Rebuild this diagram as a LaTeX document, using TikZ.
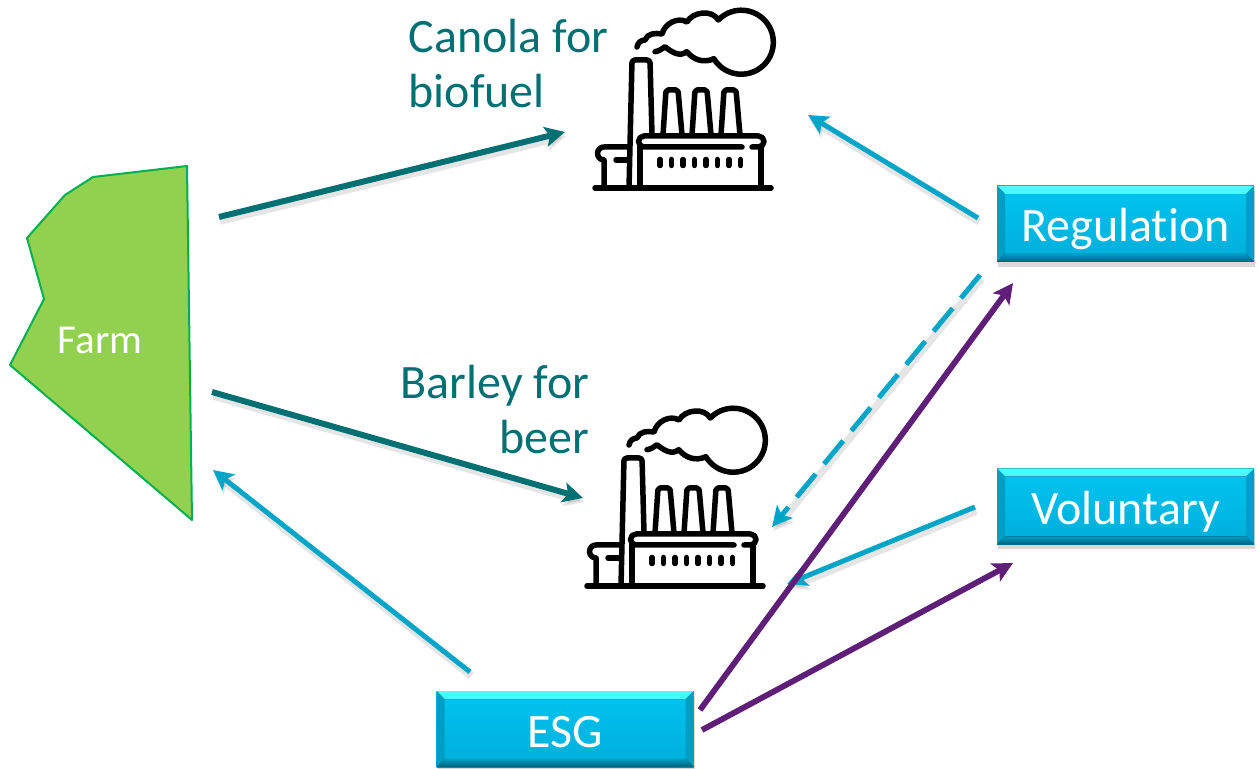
\documentclass[tikz,border=0pt]{standalone}
\usepackage{fontspec}
\setmainfont{Carlito}[Ligatures=NoCommon]
\usetikzlibrary{arrows.meta,calc,shadows}

\definecolor{cropteal}{RGB}{0,112,115}
\definecolor{flowblue}{RGB}{0,165,200}
\definecolor{flowpurple}{RGB}{95,30,120}
\definecolor{farmfill}{RGB}{146,208,80}
\definecolor{farmedge}{RGB}{0,176,80}
\definecolor{boxtop}{RGB}{0,196,240}
\definecolor{boxbottom}{RGB}{0,174,218}

\def\pbb{path picture bounding box}

\tikzset{
  bigtext/.style={font=\fontsize{13.65}{15.9}\selectfont},
  croptext/.style={bigtext, text=cropteal, inner sep=0pt},
  bevelbox/.style={bigtext, text=white, minimum width=2.57cm, minimum height=.76cm, inner sep=0pt,
    text height=.44cm, text depth=.08cm,
    top color=boxtop, bottom color=boxbottom,
    drop shadow={shadow xshift=.01cm, shadow yshift=-.05cm, opacity=.3},
    path picture={
      \fill[top color=cyan!70!white, bottom color=boxtop] (\pbb.north west) -- (\pbb.north east) -- ($(\pbb.north east)+(-.08,-.08)$) -- ($(\pbb.north west)+(.08,-.08)$) -- cycle;
      \fill[boxbottom!90!black] (\pbb.north west) -- (\pbb.south west) -- ($(\pbb.south west)+(.08,.08)$) -- ($(\pbb.north west)+(.08,-.08)$) -- cycle;
      \fill[boxbottom!90!black] (\pbb.north east) -- (\pbb.south east) -- ($(\pbb.south east)+(-.08,.08)$) -- ($(\pbb.north east)+(-.08,-.08)$) -- cycle;
      \fill[top color=boxbottom!90!black, bottom color=boxbottom!55!black] (\pbb.south west) -- (\pbb.south east) -- ($(\pbb.south east)+(-.08,.08)$) -- ($(\pbb.south west)+(.08,.08)$) -- cycle;
    }},
  flowline/.style={-{Stealth[length=.2cm,width=.2cm,inset=.045cm]},
    preaction={draw=black, opacity=.1, line width=.075cm, transform canvas={shift={(.012,-.04)}}}},
  cropflow/.style={flowline, draw=cropteal, line width=.06cm},
  ruleflow/.style={flowline, draw=flowblue, line width=.05cm},
  esgflow/.style={-{Stealth[length=.2cm,width=.2cm,inset=.045cm]}, draw=flowpurple, line width=.058cm},
  factory/.pic={
    \begin{scope}[line width=.055cm, line cap=round, line join=round, draw=black]
    \draw (.03,0) -- (1.79,0);
    \draw[rounded corners=.03cm] (.37,0) -- (.40,1.28) -- (.58,1.28) -- (.60,.53);
    \foreach \s in {0,.29,.58}
      \draw[rounded corners=.02cm, xshift=\s cm] (.71,.53) -- (.74,.98) -- (.86,.98) -- (.90,.53);
    \draw (1.50,.41) -- (.52,.41) arc[start angle=270,end angle=90,radius=.055] -- (1.665,.52)
      arc[start angle=90,end angle=-90,radius=.055] -- (1.60,.41);
    \draw (.48,.41) -- (.48,0);
    \draw (1.69,.41) -- (1.69,0);
    \foreach \w in {0,...,7}
      \draw[xshift=.115*\w cm] (.68,.225) -- (.68,.285);
    \draw (.37,.41) -- (.12,.41) arc[start angle=90,end angle=270,radius=.065] -- (.12,0);
    \draw (.24,.28) -- (.37,.28);
    % smoke
    \draw (.45,1.41) to[out=80,in=180] (.53,1.48) to[out=70,in=170] (.70,1.54)
      to[out=75,in=150] (.95,1.66) to[out=60,in=120] (1.263,1.68)
      arc[start angle=136,end angle=-149,radius=.32]
      to[out=205,in=-50] (.947,1.363) to[out=220,in=-40] (.73,1.413) to[out=215,in=10] (.63,1.363);
    \end{scope}
  }
}

\begin{document}
\begin{tikzpicture}
\useasboundingbox (0,0) rectangle (12.59,7.68);

\filldraw[fill=farmfill, draw=farmedge, line width=.02cm, line join=round]
  (1.87,6.02) -- (.93,5.91) -- (.65,5.73) -- (.27,5.30) -- (.44,4.69) -- (.10,4.03) -- (1.92,2.48) -- cycle;
\node[text=white, font=\fontsize{11.7}{14}\selectfont] (farm) at (1.00,4.28) {Farm};

\pic (canolaplant) at (5.92,5.80) {factory};
\pic (barleyplant) at (5.84,1.82) {factory};

\node[croptext, align=left, anchor=north west] (canola) at (4.08,7.50) {Canola for\\biofuel};
\node[croptext, align=right, anchor=north east] (barley) at (5.90,4.04) {Barley for\\beer};

\node[bevelbox] (regulation) at (11.255,5.44) {Regulation};
\node[bevelbox] (voluntary) at (11.255,2.615) {Voluntary};
\node[bevelbox] (esg) at (5.65,.39) {ESG};

\coordinate (c1) at (2.19,5.51);
\coordinate (c2) at (5.65,6.36);
\coordinate (c3) at (2.12,3.76);
\coordinate (c4) at (5.83,2.70);
\coordinate (c5) at (9.78,5.50);
\coordinate (c6) at (8.08,6.53);
\coordinate (c7) at (9.80,4.93);
\coordinate (c8) at (7.72,2.41);
\coordinate (c9) at (9.75,2.61);
\coordinate (c10) at (7.87,1.84);
\coordinate (c11) at (4.70,.96);
\coordinate (c12) at (2.13,2.98);
\coordinate (c13) at (7.00,.58);
\coordinate (c14) at (10.13,4.85);
\coordinate (c15) at (7.02,.38);
\coordinate (c16) at (10.13,2.05);

\draw[cropflow] (c1) -- (c2);
\draw[cropflow] (c3) -- (c4);
\draw[ruleflow] (c5) -- (c6);
\draw[ruleflow, dash pattern=on .3cm off .13cm] (c7) -- (c8);
\draw[ruleflow] (c9) -- (c10);
\draw[ruleflow] (c11) -- (c12);
\draw[esgflow] (c13) -- (c14);
\draw[esgflow] (c15) -- (c16);
\end{tikzpicture}
\end{document}
